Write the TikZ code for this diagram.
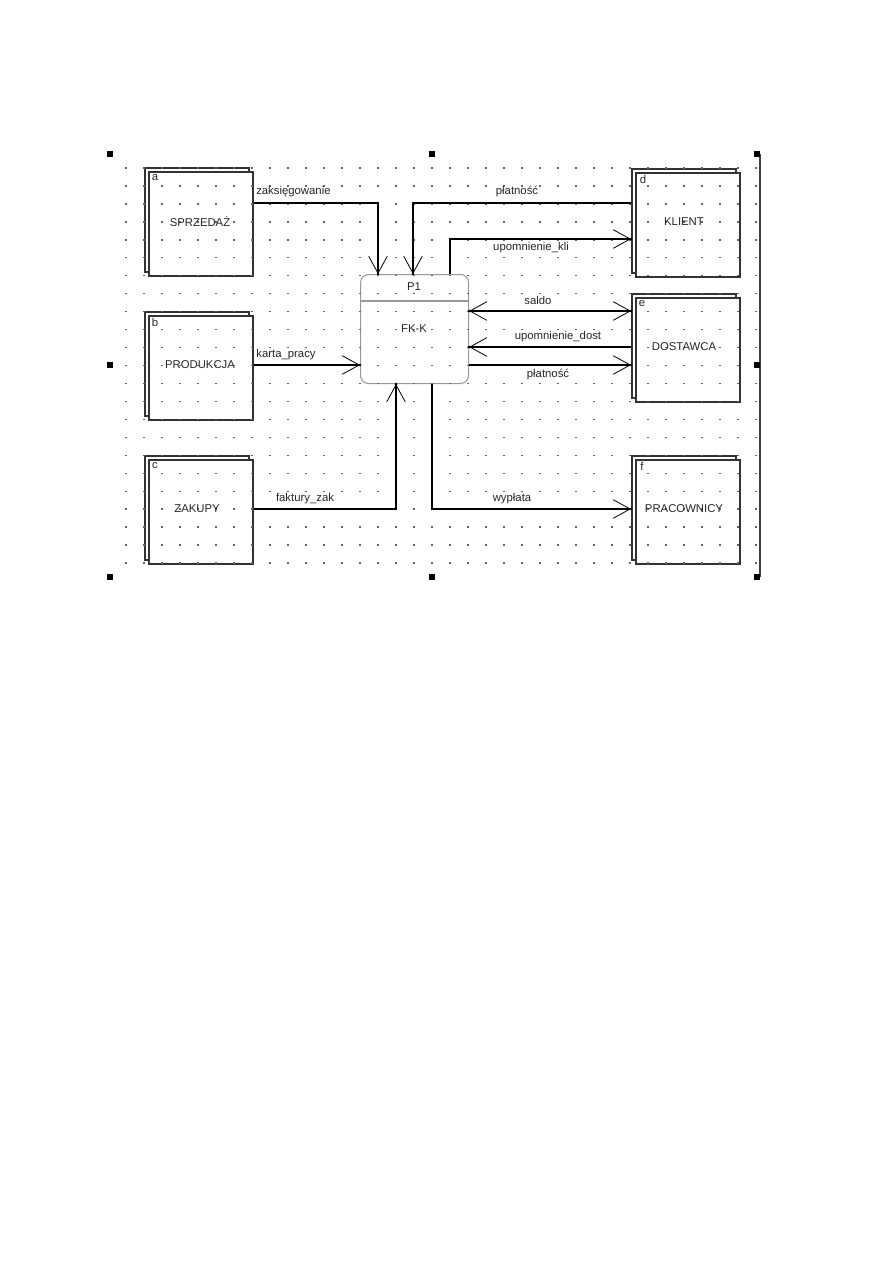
\documentclass[tikz,border=0pt]{standalone}
\usepackage{fontspec}
\setmainfont{Liberation Sans}
\usetikzlibrary{arrows.meta}
\tikzset{
  ent/.style={draw=black!80,line width=1.25pt,fill=white,minimum width=78pt,minimum height=78pt,inner sep=0pt,anchor=north west},
  proc/.style={draw=black!40,line width=0.8pt,rounded corners=6pt,minimum width=81pt,minimum height=81.75pt,inner sep=0pt,anchor=north west},
  txt/.style={font=\fontsize{8.5pt}{10pt}\selectfont,text=black!85,inner sep=0pt},
  lbl/.style={font=\fontsize{8.5pt}{10pt}\selectfont,text=black!85,inner sep=0pt},
  flow/.style={draw=black,line width=0.8pt,-{Straight Barb[length=12.75pt,width=14pt,line width=0.6pt]}},
  flowtwo/.style={draw=black,line width=0.8pt,{Straight Barb[length=12.75pt,width=14pt,line width=0.6pt]}-{Straight Barb[length=12.75pt,width=14pt,line width=0.6pt]}},
  tipdot/.style={fill=black},
  handle/.style={fill=black}
}
\begin{document}
\begin{tikzpicture}[x=0.75pt,y=-0.75pt]
\useasboundingbox (0,0) rectangle (893,1263);
\fill[white] (0,0) rectangle (893,1263);

% external entities (back and front boxes)
\node[ent] (aback) at (144,167) {};
\node[ent] (a) at (148,171) {};
\node[ent] (bback) at (144,311) {};
\node[ent] (b) at (148,315) {};
\node[ent] (cback) at (144,455) {};
\node[ent] (c) at (148,459) {};
\node[ent] (dback) at (631,168) {};
\node[ent] (d) at (635,172) {};
\node[ent] (eback) at (631,293) {};
\node[ent] (e) at (635,297) {};
\node[ent] (fback) at (631,455) {};
\node[ent] (f) at (635,459) {};

% process
\node[proc] (P1) at (360,274) {};
\draw[black!40,line width=0.8pt] (P1.west |- 0,301) -- (P1.east |- 0,301);

% grid dots
\foreach \i in {0,...,35}{
  \foreach \j in {0,...,22}{
    \fill[black!60] ({126+18*\i-0.6},{168+17.95*\j-0.6}) rectangle ++(1.3,1.3);
  }
}

% texts in boxes
\node[txt] (ta) at (155,178) {a};
\node[txt] (tb) at (155,322) {b};
\node[txt] (tc) at (155,466) {c};
\node[txt] (td) at (643,179) {d};
\node[txt] (te) at (642,304) {e};
\node[txt] (tf) at (642,466) {f};
\node[txt] (na) at (200,222) {SPRZEDAŻ};
\node[txt] (nb) at (200,365) {PRODUKCJA};
\node[txt] (nc) at (197,509) {ZAKUPY};
\node[txt] (nd) at (684,222) {KLIENT};
\node[txt] (ne) at (684,347) {DOSTAWCA};
\node[txt] (nf) at (684,509) {PRACOWNICY};
\node[txt] (np) at (414,287) {P1};
\node[txt] (nk) at (414,329) {FK-K};

% tip coordinates
\coordinate (t1) at (P1.north -| 378,0);
\coordinate (t2) at (P1.north -| 413,0);
\coordinate (t3) at (dback.west |- 0,239);
\coordinate (t4a) at (P1.east |- 0,311);
\coordinate (t4b) at (eback.west |- 0,311);
\coordinate (t5) at (P1.east |- 0,347);
\coordinate (t6) at (eback.west |- 0,365);
\coordinate (t7) at (P1.west |- 0,365);
\coordinate (t8) at (P1.south -| 396,0);
\coordinate (t9) at (fback.west |- 0,509);

% connectors
\draw[flow] (a.east |- 0,203) -| (t1);
\draw[flow] (dback.west |- 0,203) -| (t2);
\draw[flow] (P1.north -| 450,0) |- (t3);
\draw[flowtwo] (t4a) -- (t4b);
\draw[flow] (eback.west |- 0,347) -- (t5);
\draw[flow] (P1.east |- 0,365) -- (t6);
\draw[flow] (b.east |- 0,365) -- (t7);
\draw[flow] (c.east |- 0,509) -| (t8);
\draw[flow] (P1.south -| 432,0) |- (t9);

\foreach \t in {t1,t2,t3,t4a,t4b,t5,t6,t7,t8,t9}{
  \fill[tipdot] (\t) circle[radius=1.1pt];
}

% connector labels
\node[lbl,anchor=west] (l1) at (256,192) {zaksięgowanie};
\node[lbl] (l2) at (517,192) {płatność};
\node[lbl] (l3) at (531,248) {upomnienie\_kli};
\node[lbl] (l4) at (538,300) {saldo};
\node[lbl] (l5) at (558,337) {upomnienie\_dost};
\node[lbl] (l6) at (548,374) {płatność};
\node[lbl] (l7) at (286,355) {karta\_pracy};
\node[lbl] (l8) at (305,499) {faktury\_zak};
\node[lbl] (l9) at (512,499) {wypłata};

% selection frame
\draw[black!75,line width=1.1pt] (760,154) -- (760,577);
\foreach \p in {(110,154),(432,154),(757,154),(110,365),(757,365),(110,577),(432,577),(757,577)}{
  \fill[handle] \p +(-2.6,-2.6) rectangle +(2.6,2.6);
}
\end{tikzpicture}
\end{document}
